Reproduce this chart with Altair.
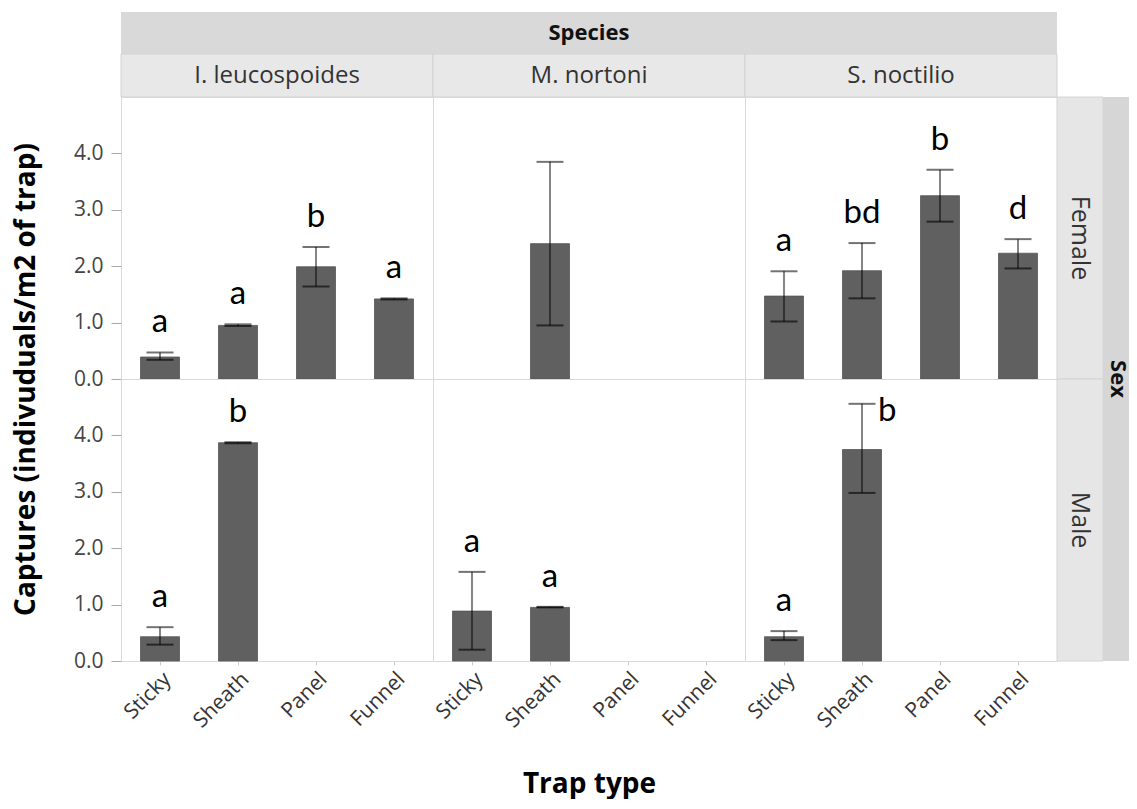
import altair as alt
import pandas as pd

# ---------------- data ----------------
traps = ["Sticky", "Sheath", "Panel", "Funnel"]
species_names = ["I. leucospoides", "M. nortoni", "S. noctilio"]
sexes = ["Female", "Male"]

rec_sex = ["Female", "Female", "Female", "Female",
           "Female",
           "Female", "Female", "Female", "Female",
           "Male", "Male",
           "Male", "Male",
           "Male", "Male"]
rec_species = ["I. leucospoides", "I. leucospoides", "I. leucospoides", "I. leucospoides",
               "M. nortoni",
               "S. noctilio", "S. noctilio", "S. noctilio", "S. noctilio",
               "I. leucospoides", "I. leucospoides",
               "M. nortoni", "M. nortoni",
               "S. noctilio", "S. noctilio"]
rec_trap = ["Sticky", "Sheath", "Panel", "Funnel",
            "Sheath",
            "Sticky", "Sheath", "Panel", "Funnel",
            "Sticky", "Sheath",
            "Sticky", "Sheath",
            "Sticky", "Sheath"]
rec_mean = [0.39, 0.95, 1.99, 1.42,
            2.40,
            1.47, 1.92, 3.25, 2.23,
            0.43, 3.87,
            0.885, 0.95,
            0.43, 3.75]
rec_lower = [0.34, 0.94, 1.64, 1.41,
             0.95,
             1.02, 1.43, 2.79, 1.96,
             0.29, 3.86,
             0.20, 0.95,
             0.37, 2.98]
rec_upper = [0.47, 0.97, 2.34, 1.43,
             3.85,
             1.91, 2.41, 3.71, 2.48,
             0.60, 3.88,
             1.58, 0.96,
             0.53, 4.56]
rec_letter = ["a", "a", "b", "a",
              "",
              "a", "bd", "b", "d",
              "a", "b",
              "a", "a",
              "a", "b"]

df = pd.DataFrame({
    "sex": rec_sex, "species": rec_species, "trap": rec_trap,
    "mean": rec_mean, "lower": rec_lower, "upper": rec_upper,
    "letter": rec_letter,
})
# letters that would run past the top of the panel sit beside the cap instead
df["beside"] = df["upper"] > 4.3

# ---------------- styling ----------------
FONT = "Open Sans"
PW, PH = 312, 282
HDR_TOP, HDR_BOT = 42, 43
STRIP_W, SEX_W = 46, 26
BAR = "#606060"
BORDER = "#d9d9d9"

xscale = alt.Scale(domain=traps, paddingInner=0.5, paddingOuter=0.25)
yscale = alt.Scale(domain=[0, 5], nice=False, zero=True)

ytick_values = [0, 0.5, 1, 1.5, 2, 2.5, 3, 3.5, 4, 4.5]


def y_axis(with_title):
    kw = dict(
        values=ytick_values,
        labelExpr="datum.value % 1 === 0 ? format(datum.value, '.1f') : ''",
        tickSize=10,
        tickDash={"condition": {"test": "datum.value % 1 !== 0", "value": [5, 10]}, "value": [10, 0]},
        tickColor="#a8a8a8", domain=False, grid=False,
        labelFontSize=21, labelColor="#444444", labelFont=FONT, labelPadding=8,
    )
    if with_title:
        kw.update(title="Captures (indivuduals/m2 of trap)", titleFontSize=28,
                  titleFont=FONT, titleFontWeight="bold", titleColor="#000000",
                  titleX=-95, titleY=PH, titleAngle=-90, titleAlign="center",
                  titleBaseline="middle")
    else:
        kw.update(title=None)
    return alt.Axis(**kw)


def x_axis(with_title):
    kw = dict(labelAngle=-45, labelAlign="right", labelBaseline="top",
              labelFontSize=21, labelColor="#333333", labelFont=FONT,
              labelPadding=3, tickSize=4, tickColor="#cccccc", domain=False)
    if with_title:
        kw.update(title="Trap type", titleFontSize=28, titleFont=FONT,
                  titleFontWeight="bold", titleColor="#000000",
                  titleY=123, titleBaseline="middle")
    else:
        kw.update(title=None)
    return alt.Axis(**kw)


def panel(sex, sp, show_y, show_x, x_title, y_title):
    d = df[(df["sex"] == sex) & (df["species"] == sp)]
    base = alt.Chart(d)
    xa = x_axis(x_title) if show_x else None
    ya = y_axis(y_title) if show_y else None
    bars = base.mark_bar(color=BAR, stroke="#555555", strokeWidth=0.8).encode(
        x=alt.X("trap:N", scale=xscale, axis=xa),
        y=alt.Y("mean:Q", scale=yscale, axis=ya),
    )
    rule = base.mark_rule(color="#000000", opacity=0.6, strokeWidth=1.6).encode(
        x=alt.X("trap:N", scale=xscale),
        y=alt.Y("lower:Q", scale=yscale),
        y2="upper:Q",
    )
    cap_hi = base.mark_tick(color="#000000", opacity=0.55, size=27, thickness=2).encode(
        x=alt.X("trap:N", scale=xscale),
        y=alt.Y("upper:Q", scale=yscale),
    )
    cap_lo = base.mark_tick(color="#000000", opacity=0.6, size=27, thickness=2).encode(
        x=alt.X("trap:N", scale=xscale),
        y=alt.Y("lower:Q", scale=yscale),
    )
    txt_top = base.transform_filter("!datum.beside").mark_text(
        font="Lato", fontSize=33, color="#000000", baseline="alphabetic", dy=-20
    ).encode(
        x=alt.X("trap:N", scale=xscale),
        y=alt.Y("upper:Q", scale=yscale),
        text="letter:N",
    )
    txt_side = base.transform_filter("datum.beside").mark_text(
        font="Lato", fontSize=33, color="#000000", baseline="alphabetic",
        align="left", dx=16, dy=17
    ).encode(
        x=alt.X("trap:N", scale=xscale),
        y=alt.Y("upper:Q", scale=yscale),
        text="letter:N",
    )
    return alt.layer(bars, rule, cap_hi, cap_lo, txt_top, txt_side).properties(
        width=PW, height=PH,
        view=alt.ViewBackground(stroke=BORDER, strokeWidth=1),
    )


# ---------------- header cells (one per species column) ----------------
names_df = pd.DataFrame({"species": species_names})
top_df = pd.DataFrame({"label": ["Species"]})


def header_cell(sp, with_title):
    d = names_df[names_df["species"] == sp]
    layers = [
        alt.Chart(d).mark_rect(fill="#d9d9d9").encode(
            x=alt.value(0), x2=alt.value("width"), y=alt.value(0), y2=alt.value(HDR_TOP)),
        alt.Chart(d).mark_rect(fill="#e8e8e8", stroke="#d2d2d2", strokeWidth=1).encode(
            x=alt.value(0), x2=alt.value("width"), y=alt.value(HDR_TOP), y2=alt.value("height")),
        alt.Chart(d).mark_text(font=FONT, fontSize=24, color="#333333").encode(
            x=alt.value(PW / 2), y=alt.value(HDR_TOP + HDR_BOT / 2), text="species:N"),
    ]
    if with_title:
        layers.append(
            alt.Chart(top_df).mark_text(font=FONT, fontSize=22, fontWeight="bold",
                                        color="#111111").encode(
                x=alt.value(PW / 2), y=alt.value(HDR_TOP / 2), text="label:N"))
    return alt.layer(*layers).properties(
        width=PW, height=HDR_TOP + HDR_BOT, view=alt.ViewBackground(stroke=None))


# ---------------- row strips (Female / Male + Sex) ----------------
sex_df = pd.DataFrame({"sex": sexes})
sex_title_df = pd.DataFrame({"label": ["Sex"]})


def row_strip(sex, with_title):
    d = sex_df[sex_df["sex"] == sex]
    layers = [
        alt.Chart(d).mark_rect(fill="#e6e6e6", stroke="#d4d4d4", strokeWidth=1).encode(
            x=alt.value(0), x2=alt.value(STRIP_W), y=alt.value(0), y2=alt.value("height")),
        alt.Chart(d).mark_rect(fill="#d6d6d6").encode(
            x=alt.value(STRIP_W), x2=alt.value(STRIP_W + SEX_W), y=alt.value(0), y2=alt.value("height")),
        alt.Chart(d).mark_text(font=FONT, fontSize=25, color="#333333", angle=90).encode(
            x=alt.value(STRIP_W / 2), y=alt.value(PH / 2), text="sex:N"),
    ]
    if with_title:
        layers.append(
            alt.Chart(sex_title_df).mark_text(font=FONT, fontSize=22, fontWeight="bold",
                                              color="#111111", angle=90).encode(
                x=alt.value(STRIP_W + SEX_W / 2 + 2), y=alt.value(0), text="label:N"))
    return alt.layer(*layers).properties(
        width=STRIP_W + SEX_W, height=PH, view=alt.ViewBackground(stroke=None))


def spacer(w, h):
    return alt.Chart(pd.DataFrame({"a": [0]})).mark_point(opacity=0).encode(
        x=alt.value(0), y=alt.value(0)
    ).properties(width=w, height=h, view=alt.ViewBackground(stroke=None))


cells = []
for c, sp in enumerate(species_names):
    cells.append(header_cell(sp, c == 1))
cells.append(spacer(STRIP_W + SEX_W, HDR_TOP + HDR_BOT))
for r, sex in enumerate(sexes):
    for c, sp in enumerate(species_names):
        cells.append(panel(sex, sp, show_y=(c == 0), show_x=(r == 1),
                           x_title=(r == 1 and c == 1), y_title=(r == 0 and c == 0)))
    cells.append(row_strip(sex, r == 1))

chart = alt.concat(*cells, columns=4, spacing=0, bounds="flush").properties(
    padding={"left": 3, "top": 1, "right": 0, "bottom": 0}
).configure(font=FONT).configure_view(stroke=None)

chart.save("out.html", embed_options={"renderer": "svg", "actions": False})
